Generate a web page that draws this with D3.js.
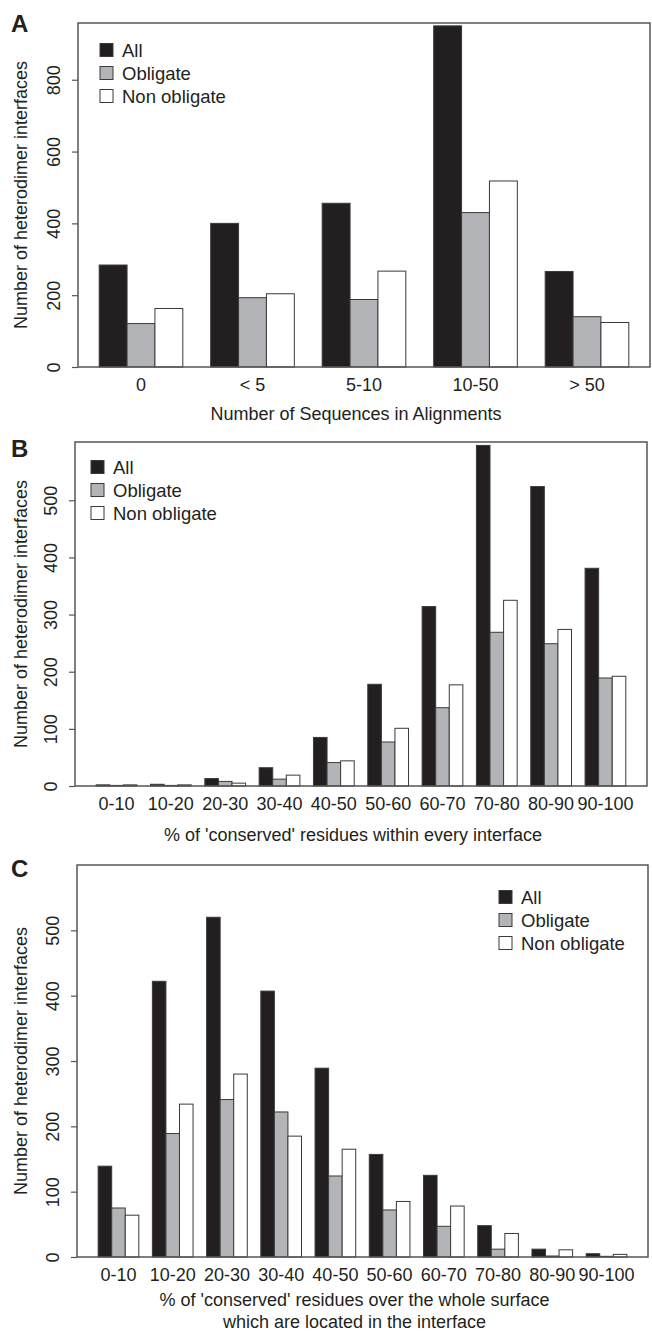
<!DOCTYPE html>
<html>
<head>
<meta charset="utf-8">
<script src="https://cdn.jsdelivr.net/npm/d3@7"></script>
<style>
  body { margin: 0; background: #fff; }
  svg text { font-family: "Liberation Sans", Arial, sans-serif; fill: #231f20; }
</style>
</head>
<body>
<div id="fig"></div>
<script>
// heterodimer interface counts, three panels (A, B, C)

var seriesNames = ['All', 'Obligate', 'Non obligate'];

// panel A - number of sequences in alignments
var catsA = ['0', '< 5', '5-10', '10-50', '> 50'];
var allA = [284, 400, 456, 950, 266];
var oblA = [121, 193, 188, 430, 140];
var nonA = [163, 204, 267, 518, 124];
var ticksA = [0, 200, 400, 600, 800];

// panel B - % conserved residues within every interface
var catsB = ['0-10', '10-20', '20-30', '30-40', '40-50', '50-60', '60-70', '70-80', '80-90', '90-100'];
var allB = [2, 3, 13, 32, 85, 178, 314, 596, 524, 381];
var oblB = [1, 1, 8, 12, 41, 77, 137, 269, 249, 189];
var nonB = [2, 2, 5, 19, 44, 101, 177, 325, 274, 192];
var ticksB = [0, 100, 200, 300, 400, 500];

// panel C - % conserved residues over whole surface located in interface
var catsC = ['0-10', '10-20', '20-30', '30-40', '40-50', '50-60', '60-70', '70-80', '80-90', '90-100'];
var allC = [139, 422, 520, 407, 289, 157, 125, 48, 12, 5];
var oblC = [75, 189, 241, 222, 124, 72, 47, 12, 1.5, 1];
var nonC = [64, 234, 280, 185, 165, 85, 78, 36, 11, 4];
var ticksC = [0, 100, 200, 300, 400, 500];


var width = 652, height = 1334;
var fills = ['#231f20', '#b2b4b7', '#ffffff'];
var ylabel = 'Number of heterodimer interfaces';

var svg = d3.select('#fig')
    .append('svg')
    .attr('width', width)
    .attr('height', height);


var panels = [
    { letter: 'A', letterY: 32, cats: catsA, series: [allA, oblA, nonA], ticks: ticksA,
      top: 23, bottom: 367, left: 78, right: 650, ymax: 958,
      legend: { x: 100, y: 50 },
      title: ['Number of Sequences in Alignments'], titleY: 420 },
    { letter: 'B', letterY: 457, cats: catsB, series: [allB, oblB, nonB], ticks: ticksB,
      top: 442, bottom: 786, left: 75, right: 647, ymax: 602,
      legend: { x: 91, y: 467 },
      title: ["% of 'conserved' residues within every interface"], titleY: 841 },
    { letter: 'C', letterY: 877, cats: catsC, series: [allC, oblC, nonC], ticks: ticksC,
      top: 865, bottom: 1257, left: 77, right: 648, ymax: 600,
      legend: { x: 499, y: 897 },
      title: ["% of 'conserved' residues over the whole surface", 'which are located in the interface'], titleY: 1306 }
];


var drawPanel = function (p) {
    var g = svg.append('g');
    var n = p.cats.length * 4;          // R barplot units, space = c(0,1)
    var pad = 0.04 * (n - 1);

    var x = d3.scaleLinear()
        .domain([1 - pad, n + pad])
        .range([p.left, p.right]);

    var y = d3.scaleLinear()
        .domain([0, p.ymax])
        .range([p.bottom, p.top]);

    // bars
    p.series.forEach(function (vals, j) {
        g.selectAll('.bar' + j)
            .data(vals)
            .enter()
            .append('rect')
            .attr('class', 'bar' + j)
            .attr('x', function (d, i) { return x(4 * i + 1 + j); })
            .attr('width', function (d, i) { return x(4 * i + 2 + j) - x(4 * i + 1 + j); })
            .attr('y', function (d) { return y(d); })
            .attr('height', function (d) { return y(0) - y(d); })
            .attr('fill', fills[j])
            .attr('stroke', '#3a3a3a')
            .attr('stroke-width', 1);
    });

    // box
    g.append('rect')
        .attr('x', p.left)
        .attr('y', p.top)
        .attr('width', p.right - p.left)
        .attr('height', p.bottom - p.top)
        .attr('fill', 'none')
        .attr('stroke', '#555')
        .attr('stroke-width', 1.5);

    // y axis, R style with rotated labels
    var yAxis = g.append('g')
        .attr('transform', 'translate(' + p.left + ',0)')
        .call(d3.axisLeft(y).tickValues(p.ticks).tickSize(6).tickFormat(d3.format('d')));
    yAxis.select('.domain').remove();
    yAxis.selectAll('line').attr('stroke', '#555').attr('stroke-width', 1.2);
    yAxis.selectAll('text')
        .attr('x', null).attr('dy', null)
        .attr('transform', 'translate(-18,0) rotate(-90)')
        .attr('text-anchor', 'middle')
        .style('font-size', '18px')
        .style('font-family', '"Liberation Sans", Arial, sans-serif')
        .attr('fill', '#231f20');

    g.append('text')
        .attr('transform', 'translate(27,' + ((p.top + p.bottom) / 2) + ') rotate(-90)')
        .attr('text-anchor', 'middle')
        .style('font-size', '18px')
        .text(ylabel);

    // category names under each group
    g.selectAll('.cat')
        .data(p.cats)
        .enter()
        .append('text')
        .attr('class', 'cat')
        .attr('x', function (d, i) { return x(4 * i + 2.5); })
        .attr('y', p.bottom + 24)
        .attr('text-anchor', 'middle')
        .style('font-size', '18px')
        .text(function (d) { return d; });

    // x title
    g.selectAll('.xtitle')
        .data(p.title)
        .enter()
        .append('text')
        .attr('class', 'xtitle')
        .attr('x', (p.left + p.right) / 2 - 8)
        .attr('y', function (d, i) { return p.titleY + i * 22; })
        .attr('text-anchor', 'middle')
        .style('font-size', '18px')
        .text(function (d) { return d; });

    // panel letter
    g.append('text')
        .attr('x', 11)
        .attr('y', p.letterY)
        .style('font-size', '24px')
        .style('font-weight', 'bold')
        .text(p.letter);

    // legend
    var leg = g.selectAll('.leg')
        .data(seriesNames)
        .enter()
        .append('g')
        .attr('class', 'leg')
        .attr('transform', function (d, i) {
            return 'translate(' + p.legend.x + ',' + (p.legend.y + i * 23) + ')';
        });

    leg.append('rect')
        .attr('x', 0)
        .attr('y', -6.5)
        .attr('width', 13)
        .attr('height', 13)
        .attr('fill', function (d, i) { return fills[i]; })
        .attr('stroke', '#3a3a3a')
        .attr('stroke-width', 1);

    leg.append('text')
        .attr('x', 22)
        .attr('y', 6.5)
        .style('font-size', '18.5px')
        .text(function (d) { return d; });
};

panels.forEach(drawPanel);
</script>
</body>
</html>
